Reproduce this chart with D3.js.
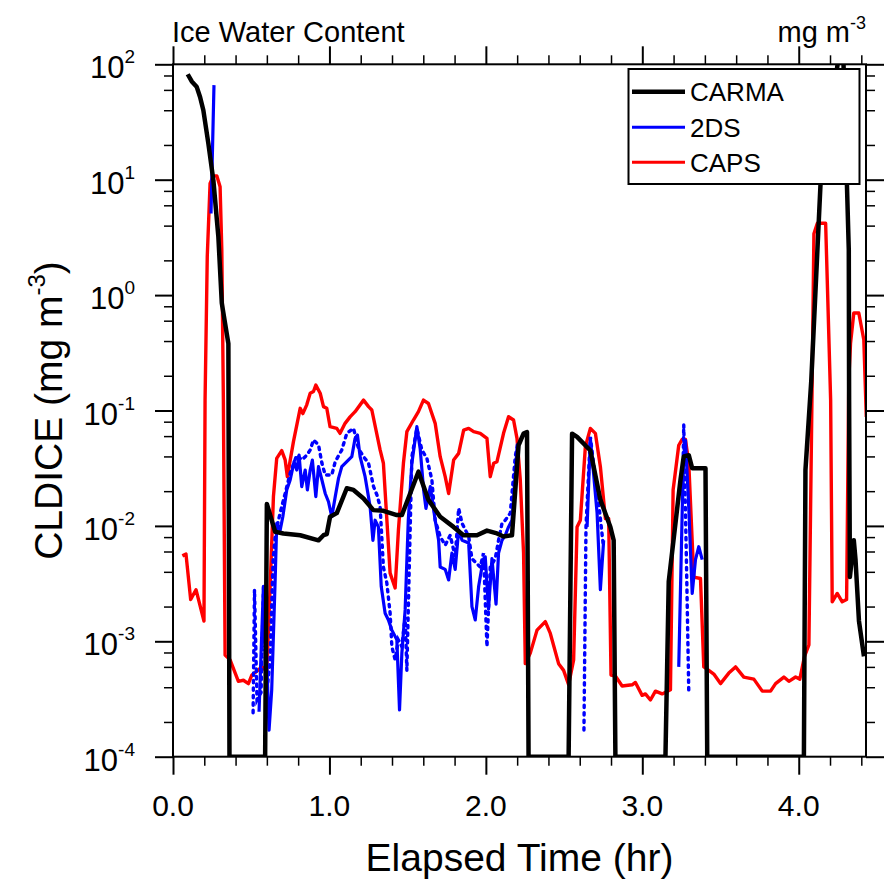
<!DOCTYPE html>
<html>
<head>
<meta charset="utf-8">
<script src="https://cdn.jsdelivr.net/npm/d3@7"></script>
<style>
html,body{margin:0;padding:0;background:#fff;}
svg{display:block;font-family:"Liberation Sans",Arial,Helvetica,sans-serif;}
</style>
</head>
<body>
<svg id="chart" width="888" height="882"></svg>
<script>
// ---------------- DATA ----------------
const title = "Ice Water Content";
const unitsLabel = ["mg m", "-3"];
const xLabel = "Elapsed Time (hr)";
const yLabel = ["CLDICE (mg m", "-3", ")"];
const xDomain = [0, 4.43];
const yDomain = [1e-4, 1e2];
const xMajorTicks = [0, 1, 2, 3, 4];
const xMajorLabels = ["0.0", "1.0", "2.0", "3.0", "4.0"];
const xMinorTicks = [0.2,0.4,0.6,0.8,1.2,1.4,1.6,1.8,2.2,2.4,2.6,2.8,3.2,3.4,3.6,3.8,4.2,4.4];
const yMajorTicks = [1e-4, 1e-3, 1e-2, 1e-1, 1e0, 1e1, 1e2];
const yMajorExps = ["-4", "-3", "-2", "-1", "0", "1", "2"];
const yMinorMult = [2, 4, 6, 8];
const legendNames = ["CARMA", "2DS", "CAPS"];

// CARMA model [hours, mg m-3]
const carma = [
 [0.094,82],[0.120,71],[0.151,64],[0.173,52],[0.194,40],[0.226,20.6],[0.258,9.9],[0.290,3.2],
 [0.312,0.85],[0.354,0.38],[0.361,1e-4],[0.589,1e-4],[0.600,0.0155],[0.653,0.0089],[0.706,0.0086],
 [0.813,0.0083],[0.930,0.0075],[0.962,0.0083],[0.983,0.0085],[1.004,0.012],[1.047,0.0129],
 [1.111,0.0212],[1.154,0.0205],[1.218,0.0173],[1.281,0.0137],[1.345,0.0135],[1.431,0.0124],
 [1.463,0.0124],[1.516,0.0191],[1.569,0.0295],[1.633,0.0168],[1.708,0.012],[1.793,0.0098],
 [1.857,0.0083],[1.943,0.0083],[2.007,0.0091],[2.071,0.0086],[2.113,0.0081],[2.167,0.0083],
 [2.209,0.050],[2.241,0.063],[2.263,0.065],[2.273,1e-4],[2.529,1e-4],[2.551,0.063],[2.583,0.059],
 [2.668,0.045],[2.732,0.0168],[2.796,0.0098],[2.817,0.0075],[2.828,1e-4],[3.148,1e-4],
 [3.169,0.0033],[3.244,0.025],[3.265,0.040],[3.297,0.041],[3.319,0.0316],[3.404,0.0316],
 [3.415,1e-4],[4.033,1e-4],[4.043,0.0305],[4.080,0.18],[4.139,9.0],[4.28,200],[4.320,2.46],
 [4.322,0.124],[4.327,0.0036],[4.352,0.0075],[4.363,0.0051],[4.385,0.0015],[4.417,0.00074]
];

// 2DS probe, solid
const tds = [
 [0.243,5.1],[0.262,66],[0.30,null],
 [0.550,0.000245],[0.578,0.0030],[0.595,0.00103],[0.614,0.00017],[0.631,0.00038],[0.653,0.0034],
 [0.663,0.0105],[0.685,0.0092],[0.702,0.012],[0.727,0.0205],[0.749,0.025],[0.774,0.036],
 [0.791,0.0305],[0.806,0.041],[0.823,0.0219],[0.845,0.0305],[0.859,0.0205],[0.877,0.0305],
 [0.891,0.0372],[0.913,0.0179],[0.930,0.0326],[0.952,0.025],[0.973,0.0191],[0.994,0.0162],
 [1.015,0.012],[1.037,0.0179],[1.058,0.0258],[1.079,0.0326],[1.111,0.036],[1.143,0.0398],
 [1.164,0.0574],[1.179,0.0613],[1.196,0.0398],[1.228,0.0267],[1.260,0.0147],[1.278,0.0075],
 [1.292,0.0112],[1.313,0.0098],[1.331,0.0030],[1.356,0.00175],[1.377,0.00153],[1.399,0.00125],
 [1.431,0.00103],[1.448,0.000254],[1.463,0.00079],[1.484,0.00187],[1.504,0.0112],[1.527,0.0349],
 [1.559,0.0724],[1.580,0.0467],[1.602,0.0205],[1.617,0.0142],[1.645,0.0219],[1.676,0.0112],
 [1.698,0.0075],[1.708,0.0044],[1.740,0.0042],[1.762,0.0034],[1.783,0.0058],[1.804,0.0042],
 [1.826,0.0092],[1.848,0.0075],[1.890,0.0071],[1.911,0.0020],[1.932,0.00153],[1.954,0.0030],
 [1.975,0.0044],[1.996,0.0054],[2.017,0.0019],[2.039,0.0052],[2.065,0.0021],[2.081,0.0058],
 [2.103,0.0075],[2.124,0.0083],[2.145,0.0098],[2.167,0.0112],[2.199,0.0467],[2.22,null],
 [2.647,0.0098],[2.668,0.0574],[2.687,0.030],[2.711,0.0129],[2.732,0.0028],[2.753,0.0075],[2.77,null],
 [3.233,0.0006],[3.261,0.0305],[3.276,0.055],[3.295,0.0168],[3.319,0.0026],[3.340,0.0051],
 [3.361,0.0066],[3.383,0.0051]
];

// 2DS probe, dotted
const tdsDot = [
 [0.512,0.00024],[0.521,0.0028],[0.537,0.00031],[0.563,0.00036],[0.579,0.003],[0.595,0.00031],
 [0.621,0.00069],[0.640,0.0051],[0.653,0.0081],[0.674,0.0112],[0.695,0.0147],[0.717,0.0191],
 [0.749,0.0286],[0.791,0.041],[0.823,0.0373],[0.855,0.041],[0.877,0.0455],[0.898,0.0555],
 [0.930,0.0505],[0.952,0.0349],[0.973,0.0276],[1.015,0.0276],[1.037,0.036],[1.079,0.0455],
 [1.111,0.0634],[1.154,0.070],[1.186,0.0467],[1.218,0.0398],[1.250,0.0349],[1.282,0.0219],
 [1.304,0.0185],[1.324,0.0147],[1.345,0.0044],[1.367,0.0032],[1.388,0.00175],[1.399,0.0009],
 [1.420,0.00069],[1.440,0.00103],[1.463,0.0009],[1.484,0.00163],[1.495,0.00056],[1.527,0.0398],
 [1.559,0.070],[1.591,0.0455],[1.623,0.0385],[1.655,0.025],[1.676,0.0112],[1.708,0.0081],
 [1.740,0.0068],[1.772,0.0083],[1.804,0.0054],[1.826,0.0142],[1.848,0.0105],[1.890,0.0081],
 [1.911,0.0052],[1.964,0.0044],[1.985,0.0058],[2.007,0.0009],[2.028,0.0044],[2.060,0.0052],
 [2.081,0.0075],[2.103,0.0105],[2.124,0.0112],[2.156,0.0129],[2.188,0.0398],[2.203,0.052],[2.22,null],
 [2.627,0.00017],[2.640,0.0098],[2.668,0.059],[2.694,0.030],[2.719,0.0168],[2.749,0.0071],[2.77,null],
 [3.257,0.0168],[3.265,0.075],[3.282,0.0051],[3.297,0.00037],[3.30,null]
];

// CAPS probe
const caps = [
 [0.060,0.0055],[0.083,0.0057],[0.113,0.0023],[0.147,0.0028],[0.198,0.0015],[0.205,0.123],
 [0.219,2.15],[0.237,9.3],[0.258,10.8],[0.280,10.8],[0.301,8.7],[0.312,2.46],[0.322,0.124],
 [0.333,0.00076],[0.365,0.00069],[0.418,0.00045],[0.450,0.00046],[0.482,0.00043],[0.504,0.00051],
 [0.536,0.00055],[0.568,0.0006],[0.600,0.00055],[0.621,0.0030],[0.642,0.0179],[0.663,0.0385],
 [0.695,0.0449],[0.717,0.0373],[0.731,0.0267],[0.770,0.0537],[0.813,0.1045],[0.830,0.094],
 [0.855,0.112],[0.877,0.141],[0.898,0.146],[0.913,0.166],[0.941,0.141],[0.962,0.108],
 [0.983,0.1045],[1.004,0.0724],[1.047,0.070],[1.068,0.0634],[1.100,0.0774],[1.132,0.088],
 [1.164,0.0977],[1.218,0.123],[1.250,0.108],[1.271,0.101],[1.324,0.0455],[1.345,0.0349],
 [1.388,0.0039],[1.420,0.0029],[1.441,0.0092],[1.473,0.0349],[1.495,0.0655],[1.537,0.0827],
 [1.569,0.0977],[1.601,0.123],[1.633,0.115],[1.676,0.0774],[1.708,0.0398],[1.740,0.0267],
 [1.762,0.0191],[1.794,0.0372],[1.826,0.0425],[1.858,0.0677],[1.890,0.070],[1.922,0.0655],
 [1.964,0.0634],[2.007,0.0574],[2.028,0.0267],[2.050,0.0349],[2.071,0.036],[2.113,0.0634],
 [2.145,0.0883],[2.177,0.0827],[2.199,0.0574],[2.220,0.025],[2.241,0.0058],[2.252,0.00064],
 [2.284,0.00079],[2.327,0.00125],[2.380,0.00148],[2.412,0.00117],[2.465,0.00064],[2.497,0.00056],
 [2.529,0.00042],[2.561,0.00069],[2.583,0.0098],[2.604,0.0112],[2.636,0.0485],[2.668,0.070],
 [2.700,0.0634],[2.732,0.0326],[2.764,0.0116],[2.785,0.0116],[2.800,0.00051],[2.828,0.0005],
 [2.871,0.00041],[2.935,0.00042],[2.956,0.00044],[2.999,0.00034],[3.020,0.00035],[3.052,0.00031],
 [3.084,0.00037],[3.127,0.00035],[3.180,0.00038],[3.197,0.0205],[3.233,0.050],[3.254,0.056],
 [3.276,0.056],[3.297,0.035],[3.329,0.0036],[3.372,0.0035],[3.393,0.0006],[3.425,0.00056],
 [3.457,0.00052],[3.500,0.00043],[3.553,0.00053],[3.596,0.0006],[3.649,0.00049],[3.713,0.00047],
 [3.767,0.00037],[3.820,0.00037],[3.852,0.00043],[3.905,0.00049],[3.937,0.00045],[3.980,0.00049],
 [4.007,0.00047],[4.037,0.00074],[4.065,0.00093],[4.086,0.184],[4.097,3.4],[4.119,4.2],
 [4.172,4.2],[4.204,0.123],[4.214,0.0022],[4.246,0.0026],[4.278,0.0022],[4.306,0.0023],
 [4.320,0.184],[4.331,0.38],[4.352,0.70],[4.384,0.70],[4.416,0.41],[4.432,0.088]
];

// ---------------- CHART ----------------
const svg = d3.select("#chart");
const L = 173, R = 866, T = 64.3, B = 756.7;
const x = d3.scaleLinear().domain(xDomain).range([L, R]);
const y = d3.scaleLog().domain(yDomain).range([B, T]);

const yMinorTicks = [];
yMajorTicks.slice(0, -1).forEach(d => yMinorMult.forEach(m => yMinorTicks.push(d * m)));

svg.append("defs").append("clipPath").attr("id", "clip")
  .append("rect").attr("x", L).attr("y", T).attr("width", R - L).attr("height", B - T);

function styleAxis(g, w) {
  g.select(".domain").remove();
  g.selectAll(".tick line").attr("stroke", "#000").attr("stroke-width", w);
  g.selectAll(".tick text").remove();
}
// ticks (outward) on all four sides
[[d3.axisBottom, B], [d3.axisTop, T]].forEach(([ax, pos]) => {
  svg.append("g").attr("transform", `translate(0,${pos})`)
    .call(ax(x).tickValues(xMinorTicks).tickSize(9).tickFormat("")).call(g => styleAxis(g, 1.5));
  svg.append("g").attr("transform", `translate(0,${pos})`)
    .call(ax(x).tickValues(xMajorTicks).tickSize(18).tickFormat("")).call(g => styleAxis(g, 2));
});
[[d3.axisLeft, L], [d3.axisRight, R]].forEach(([ax, pos]) => {
  svg.append("g").attr("transform", `translate(${pos},0)`)
    .call(ax(y).tickValues(yMinorTicks).tickSize(9).tickFormat("")).call(g => styleAxis(g, 1.5));
  svg.append("g").attr("transform", `translate(${pos},0)`)
    .call(ax(y).tickValues(yMajorTicks).tickSize(18).tickFormat("")).call(g => styleAxis(g, 2));
});

// data lines
const line = d3.line().defined(d => d[1] != null).x(d => x(d[0])).y(d => y(d[1]));
const plot = svg.append("g").attr("clip-path", "url(#clip)");
plot.append("path").datum(caps).attr("d", line).attr("fill", "none")
  .attr("stroke", "#ff0000").attr("stroke-width", 3.4).attr("stroke-linejoin", "round");
plot.append("path").datum(tdsDot).attr("d", line).attr("fill", "none")
  .attr("stroke", "#0000ff").attr("stroke-width", 3.4).attr("stroke-dasharray", "2.5,5")
  .attr("stroke-linecap", "round");
plot.append("path").datum(tds).attr("d", line).attr("fill", "none")
  .attr("stroke", "#0000ff").attr("stroke-width", 3.2).attr("stroke-linejoin", "round");
plot.append("path").datum(carma).attr("d", line).attr("fill", "none")
  .attr("stroke", "#000").attr("stroke-width", 4.5).attr("stroke-linejoin", "round");

// frame
svg.append("rect").attr("x", L).attr("y", T).attr("width", R - L).attr("height", B - T)
  .attr("fill", "none").attr("stroke", "#000").attr("stroke-width", 2);

// tick labels
svg.append("g").selectAll("text").data(xMajorTicks).join("text")
  .attr("x", d => x(d)).attr("y", 816).attr("text-anchor", "middle")
  .attr("font-size", 30).text((d, i) => xMajorLabels[i]);
const yl = svg.append("g").selectAll("text").data(yMajorTicks).join("text")
  .attr("x", 135).attr("y", d => y(d) + 14).attr("text-anchor", "end").attr("font-size", 31);
yl.append("tspan").text("10");
yl.append("tspan").attr("font-size", 19).attr("dy", -15).text((d, i) => yMajorExps[i]);

// titles
svg.append("text").attr("x", 172).attr("y", 42).attr("font-size", 29).text(title);
const ut = svg.append("text").attr("x", 866).attr("y", 42).attr("text-anchor", "end").attr("font-size", 29);
ut.append("tspan").text(unitsLabel[0]);
ut.append("tspan").attr("font-size", 18).attr("dy", -13).text(unitsLabel[1]);

svg.append("text").attr("x", (L + R) / 2).attr("y", 871).attr("text-anchor", "middle")
  .attr("font-size", 39).text(xLabel);
const yt = svg.append("text").attr("transform", `translate(62,${(T + B) / 2}) rotate(-90)`)
  .attr("text-anchor", "middle").attr("font-size", 39);
yt.append("tspan").text(yLabel[0]);
yt.append("tspan").attr("font-size", 24).attr("dy", -17).text(yLabel[1]);
yt.append("tspan").attr("dy", 17).text(yLabel[2]);

// legend
const lg = svg.append("g");
lg.append("rect").attr("x", 628.5).attr("y", 69).attr("width", 231).attr("height", 115)
  .attr("fill", "#fff").attr("stroke", "#000").attr("stroke-width", 2);
const legStyle = [{c: "#000", w: 4.5}, {c: "#0000ff", w: 3}, {c: "#ff0000", w: 3}];
const legY = [91.7, 127.3, 162.3];
legendNames.forEach((n, i) => {
  lg.append("line").attr("x1", 632).attr("x2", 685).attr("y1", legY[i]).attr("y2", legY[i])
    .attr("stroke", legStyle[i].c).attr("stroke-width", legStyle[i].w);
  lg.append("text").attr("x", 690).attr("y", legY[i] + 9.5).attr("font-size", 26).text(n);
});
</script>
</body>
</html>
